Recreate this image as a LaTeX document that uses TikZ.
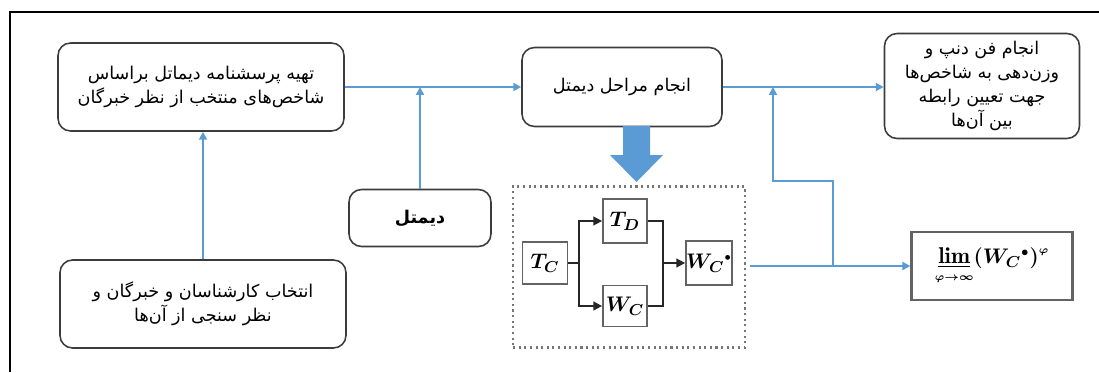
\documentclass[tikz,border=0pt]{standalone}
\usepackage{fontspec}
\usepackage{amsmath}
\usepackage{bm}
\usetikzlibrary{arrows.meta}
\TeXXeTstate=1
\newfontfamily\arabicfont[Script=Arabic]{DejaVu Sans}
\definecolor{linkblue}{RGB}{91,155,213}
\definecolor{boxgray}{RGB}{60,60,60}
\tikzstyle{stage}=[rectangle,rounded corners=0.25cm,draw=boxgray,line width=0.9pt,
  align=center,font=\arabicfont\fontsize{10}{13.5}\selectfont]
\tikzstyle{block}=[rectangle,draw=boxgray!80,line width=1pt,inner sep=0pt,
  font=\fontsize{12.5}{14}\selectfont]
\tikzstyle{link}=[linkblue,line width=1.1pt,-{Triangle[length=4.5pt,width=4.5pt]}]
\tikzstyle{flow}=[black!85,line width=1pt]

\begin{document}
\begin{tikzpicture}[x=0.02cm,y=-0.02cm]
  \useasboundingbox (0,0) rectangle (1099,372);
  \draw[line width=1.1pt] (10,372) -- (10,12) -- (1099,12);

  % main steps
  \node[stage,minimum width=5.72cm,minimum height=1.76cm] (questionnaire) at (201,87)
    {\beginR تهیه پرسشنامه دیماتل براساس\endR\\
     \beginR شاخص‌های منتخب از نظر خبرگان\endR};
  \node[stage,minimum width=4cm,minimum height=1.58cm] (dematel steps) at (622,87)
    {\beginR انجام مراحل دیمتل\endR};
  \node[stage,minimum width=3.9cm,minimum height=2.1cm] (anp) at (982,86)
    {\beginR انجام فن دنپ  و\endR\\
     \beginR وزن‌دهی به شاخص‌ها\endR\\
     \beginR جهت تعیین رابطه\endR\\
     \beginR بین آن‌ها\endR};
  \node[stage,minimum width=2.84cm,minimum height=1.14cm,
    font=\arabicfont\bfseries\fontsize{10}{13.5}\selectfont] (dematel) at (420,218)
    {\beginR دیمتل\endR};
  \node[stage,minimum width=5.72cm,minimum height=1.76cm] (experts) at (203,304)
    {\beginR انتخاب کارشناسان و خبرگان و\endR\\
     \beginR نظر سنجی از آن‌ها\endR};

  % dematel computation
  \node[draw=boxgray!70,dotted,line width=1.2pt,minimum width=4.64cm,
    minimum height=3.22cm] (calc) at (629,267) {};
  \node[block,minimum width=0.9cm,minimum height=0.84cm] (TC) at (545,263)
    {$\bm{T_C}$};
  \node[block,minimum width=0.88cm,minimum height=0.88cm] (TD) at (625,221)
    {$\bm{T_D}$};
  \node[block,minimum width=0.88cm,minimum height=0.82cm] (WC) at (625,306)
    {$\bm{W_C}$};
  \node[block,minimum width=0.92cm,minimum height=0.88cm] (WCs) at (709,263)
    {$\bm{W_C}{}^{\scriptscriptstyle\bullet}$};
  \node[block,draw=boxgray!80,line width=1.3pt,minimum width=3.22cm,
    minimum height=1.36cm,font=\fontsize{13}{15}\selectfont] (limit) at (992,266)
    {$\mathop{\underline{\bm{\mathrm{lim}}}}\limits_{\scriptscriptstyle\bm{\varphi\to\infty}}
      \bm{(W_C{}^{\scriptscriptstyle\bullet})^{\scriptscriptstyle\varphi}}$};

  \coordinate (fork) at (579,263);
  \coordinate (merge) at (663,263);
  \draw[flow] (TC.east) -- (fork);
  \draw[flow,-{Triangle[length=5pt,width=5pt]}] (fork) |- (TD.west);
  \draw[flow,-{Triangle[length=5pt,width=5pt]}] (fork) |- (WC.west);
  \draw[flow] (TD.east) -| (merge);
  \draw[flow] (WC.east) -| (merge);
  \draw[flow,-{Triangle[length=5pt,width=5pt]}] (merge) -- (WCs.west);

  % big arrow
  \fill[linkblue] (623,126) -- (650,126) -- (650,155) -- (663,155) -- (636.5,182)
    -- (610,155) -- (623,155) -- cycle;

  % connectors
  \draw[link] (questionnaire.east) -- (dematel steps.west);
  \draw[link] (dematel steps.east) -- (dematel steps.east -| anp.west);
  \draw[link] (experts.north) -- (experts.north |- questionnaire.south);
  \draw[link] (dematel.north) -- (dematel.north |- questionnaire.east);
  \coordinate (calc out) at (750,266);
  \coordinate (branch) at (833,266);
  \coordinate (bend) at (773,181);
  \draw[link] (calc out) -- (limit.west);
  \draw[link] (branch) |- (bend) -- (bend |- dematel steps.east);
\end{tikzpicture}
\end{document}
